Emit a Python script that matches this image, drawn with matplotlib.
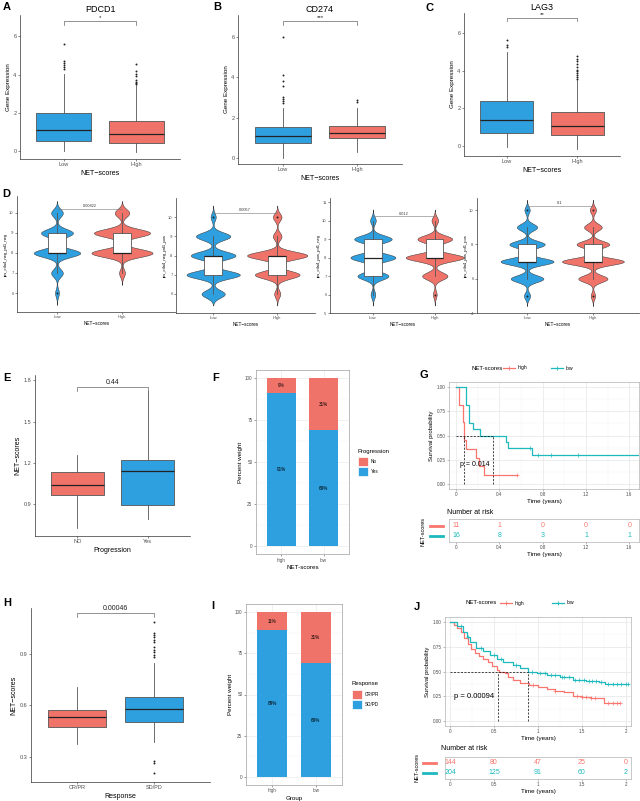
import numpy as np
import matplotlib
matplotlib.use('Agg')
import matplotlib.pyplot as plt
from matplotlib.patches import Rectangle
from matplotlib.lines import Line2D

plt.rcParams['font.family'] = ['Liberation Sans', 'DejaVu Sans']

# ---------------- data ----------------
groups = ['Low', 'High']

# A-C gene expression: whislo, q1, median, q3, whishi
genes = ['PDCD1', 'CD274', 'LAG3']
gene_sig = ['*', '***', '**']
gene_low = [[0.0, 0.55, 1.12, 1.97, 4.05],
            [0.0, 0.72, 1.08, 1.55, 2.5],
            [-0.05, 0.68, 1.40, 2.40, 5.0]]
gene_high = [[-0.05, 0.45, 0.88, 1.60, 3.45],
             [0.3, 0.98, 1.25, 1.58, 2.5],
             [-0.15, 0.60, 1.05, 1.80, 3.5]]
gene_low_out = [[4.3, 4.4, 4.5, 4.6, 4.7, 5.6],
                [2.75, 2.85, 2.95, 3.05, 3.55, 3.8, 4.1, 6.0],
                [5.25, 5.35, 5.6]]
gene_high_out = [[3.5, 3.55, 3.6, 3.7, 3.9, 4.05, 4.2, 4.55],
                 [2.8, 2.9],
                 [3.55, 3.65, 3.75, 3.85, 3.95, 4.05, 4.2, 4.35, 4.5, 4.6, 4.75]]

# D violins: relative frequency at each score level
ips_names = ['ips_ctla4_neg_pd1_neg', 'ips_ctla4_neg_pd1_pos',
             'ips_ctla4_pos_pd1_neg', 'ips_ctla4_pos_pd1_pos']
ips_pvals = ['0.00822', '0.0057', '0.012', '0.1']
ips_levels = [5, 6, 7, 8, 9, 10]
ips_low_freq = [[0, 4, 12, 48, 33, 12],
                [0, 27, 62, 52, 40, 6],
                [0, 5, 33, 48, 40, 6],
                [7, 37, 60, 40, 23, 6]]
ips_high_freq = [[0, 0, 6, 63, 58, 15],
                 [0, 7, 52, 70, 10, 10],
                 [0, 4, 27, 62, 37, 7],
                 [5, 33, 70, 37, 20, 7]]
ips_low_box = [[7, 8, 8, 9, 10], [6, 7, 8, 8, 9], [6, 7, 8, 9, 10], [6, 7, 7, 8, 9]]
ips_high_box = [[7, 8, 8, 9, 10], [6, 7, 8, 8, 9], [7, 8, 8, 9, 10], [6, 7, 7, 8, 9]]
ips_low_out = [[6], [10], [], [5, 10]]
ips_high_out = [[], [10], [6], [5, 10]]

# E progression boxplot
prog_groups = ['NO', 'Yes']
prog_box = [[0.725, 0.966, 1.04, 1.135, 1.26], [0.79, 0.893, 1.14, 1.22, 1.72]]
prog_p = '0.44'

# F progression stacked bars
f_groups = ['high', 'low']
f_no = [9, 31]
f_yes = [91, 69]

# G survival (small cohort)
g_high_t = [0.0, 0.03, 0.06, 0.065, 0.07, 0.075, 0.09, 0.18, 0.21, 0.26]
g_high_s = [1.0, 0.818, 0.727, 0.636, 0.545, 0.455, 0.364, 0.273, 0.182, 0.091]
g_high_end = 0.56
g_high_cens = [0.56]
g_low_t = [0.0, 0.09, 0.12, 0.16, 0.22, 0.46, 0.48, 0.70]
g_low_s = [1.0, 0.8125, 0.625, 0.5625, 0.5, 0.4375, 0.375, 0.30]
g_low_end = 1.69
g_low_cens = [0.68, 0.76, 0.88, 1.13]
g_medians = [0.078, 0.34]
g_pval = 'p = 0.014'
g_risk_times = [0, 0.4, 0.8, 1.2, 1.6]
g_risk_high = [11, 1, 0, 0, 0]
g_risk_low = [16, 8, 3, 1, 1]

# H response boxplot
resp_groups = ['CR/PR', 'SD/PD']
resp_box = [[0.376, 0.475, 0.533, 0.574, 0.708], [0.387, 0.502, 0.578, 0.65, 0.848]]
resp_out = [[], [0.205, 0.267, 0.279, 0.884, 0.895, 0.913, 0.925, 0.94,
                 0.97, 0.98, 1.0, 1.01, 1.02, 1.085]]
resp_p = '0.00046'

# I response stacked bars
i_groups = ['high', 'low']
i_crpr = [11, 31]
i_sdpd = [89, 69]

# J survival (large cohort)
j_high_t = [0, 0.04, 0.08, 0.12, 0.16, 0.20, 0.24, 0.28, 0.33, 0.38, 0.43, 0.48, 0.53,
            0.56, 0.63, 0.66, 0.72, 0.80, 0.90, 1.00, 1.10, 1.20, 1.30, 1.40, 1.50, 1.60, 1.75]
j_high_s = [1.0, 0.97, 0.94, 0.90, 0.84, 0.78, 0.73, 0.69, 0.66, 0.63, 0.60, 0.56, 0.52,
            0.497, 0.48, 0.44, 0.41, 0.38, 0.36, 0.34, 0.32, 0.30, 0.29, 0.25, 0.24, 0.23, 0.185]
j_high_end = 1.93
j_high_cens = [0.95, 1.2, 1.45, 1.5, 1.55, 1.6, 1.65, 1.8, 1.85, 1.9, 1.93]
j_low_t = [0, 0.075, 0.15, 0.19, 0.227, 0.30, 0.38, 0.455, 0.53, 0.606, 0.72, 0.795,
           0.89, 0.985, 1.1, 1.25, 1.4, 1.55, 1.70, 1.76]
j_low_s = [1.0, 0.956, 0.90, 0.85, 0.80, 0.74, 0.705, 0.665, 0.63, 0.60, 0.565, 0.54,
           0.50, 0.48, 0.463, 0.44, 0.41, 0.405, 0.395, 0.37]
j_low_end = 2.03
j_low_cens = [0.12, 0.2, 0.35, 0.5, 0.58, 0.75, 0.93, 1.02, 1.08, 1.15, 1.2, 1.27, 1.3,
              1.35, 1.42, 1.47, 1.52, 1.58, 1.62, 1.66, 1.72, 1.8, 1.85, 1.9, 1.95, 2.0, 2.03]
j_medians = [0.55, 0.89]
j_pval = 'p = 0.00094'
j_risk_times = [0, 0.5, 1, 1.5, 2]
j_risk_high = [144, 80, 47, 25, 0]
j_risk_low = [204, 125, 91, 60, 2]

# ---------------- style ----------------
BLUE = '#2E9FDF'
RED = '#F0736A'
KM_RED = '#F8766D'
KM_TEAL = '#1DB9BE'
TXT = '#4D4D4D'
MINUS = '\u2212'

W, H = 640, 801
fig = plt.figure(figsize=(6.4, 8.01), dpi=100)


def px_axes(l, t, r, b):
    return fig.add_axes([l / W, 1 - b / H, (r - l) / W, (b - t) / H])


def ftext(x, y, s, **kw):
    fig.text(x / W, 1 - y / H, s, **kw)


def letter(x, y, s):
    ftext(x, y, s, fontsize=8, fontweight='bold', ha='left', va='center')


def classic(ax, fs=4):
    for side in ['top', 'right']:
        ax.spines[side].set_visible(False)
    for side in ['left', 'bottom']:
        ax.spines[side].set_color('#333333')
        ax.spines[side].set_linewidth(0.5)
    ax.tick_params(length=1.5, width=0.4, color='#333333', labelsize=fs,
                   labelcolor=TXT, pad=1)


def boxes(ax, stats, fliers, colors, width=0.75):
    bs = []
    for (lo, q1, med, q3, hi), fl in zip(stats, fliers):
        bs.append(dict(whislo=lo, q1=q1, med=med, q3=q3, whishi=hi, fliers=fl))
    out = ax.bxp(bs, positions=[1, 2], widths=width, patch_artist=True, showcaps=False,
                 boxprops=dict(edgecolor='#555555', linewidth=0.6),
                 medianprops=dict(color='#222222', linewidth=0.9),
                 whiskerprops=dict(color='#555555', linewidth=0.6),
                 flierprops=dict(marker='o', markersize=1.4, markerfacecolor='#222222',
                                 markeredgecolor='none'))
    for patch, c in zip(out['boxes'], colors):
        patch.set_facecolor(c)


def bracket(ax, y, tick, label, fs, gap):
    ax.plot([1, 1, 2, 2], [y - tick, y, y, y - tick], color='#666666', lw=0.5)
    ax.text(1.5, y + gap, label, ha='center', va='bottom', fontsize=fs, color='#222222')


# ---------------- A-C ----------------
abc_rects = [(20, 15, 180, 159), (238, 15, 402, 164), (464, 13, 620, 156)]
abc_ylim = [(-0.4, 7.1), (-0.3, 7.1), (-0.53, 7.05)]
abc_letters = [(3, 7, 'A'), (213, 7, 'B'), (425, 8, 'C')]
for i in range(3):
    ax = px_axes(*abc_rects[i])
    classic(ax)
    boxes(ax, [gene_low[i], gene_high[i]], [gene_low_out[i], gene_high_out[i]], [BLUE, RED])
    ax.set_xlim(0.4, 2.6)
    ax.set_ylim(*abc_ylim[i])
    ax.set_yticks([0, 2, 4, 6])
    ax.set_xticks([1, 2])
    ax.set_xticklabels(groups)
    ax.set_ylabel('Gene Expression', fontsize=4.5, labelpad=1.5)
    ax.set_xlabel('NET' + MINUS + 'scores', fontsize=5, labelpad=1.5)
    ax.set_title(genes[i], fontsize=6.5, pad=2)
    bracket(ax, 6.8, 0.2, gene_sig[i], 4.5, 0.05)
    letter(*abc_letters[i])

# ---------------- D ----------------
d_rects = [(17, 196, 177, 312), (176, 198, 315, 313), (330, 198, 475, 313), (477, 198, 639, 313)]
d_ylim = [(5.05, 10.85), (5.01, 10.99), (5.0, 11.22), (4.0, 10.7)]
d_xlim = [(0.385, 2.846), (0.42, 2.59), (0.306, 2.65), (0.24, 2.70)]
d_yticks = [[6, 7, 8, 9, 10], [6, 7, 8, 9, 10], [5, 6, 7, 8, 9, 10, 11], [4, 6, 8, 10]]
bw = 0.2
lv = np.array(ips_levels, dtype=float)
for i in range(4):
    ax = px_axes(*d_rects[i])
    classic(ax, fs=3)
    dens_list = []
    for freq in [ips_low_freq[i], ips_high_freq[i]]:
        fr = np.array(freq, dtype=float)
        present = lv[fr > 0]
        y = np.linspace(present.min() - 3 * bw, present.max() + 3 * bw, 400)
        d = (fr[None, :] * np.exp(-0.5 * ((y[:, None] - lv[None, :]) / bw) ** 2)).sum(axis=1)
        dens_list.append((y, d))
    dmax = max(d.max() for _, d in dens_list)
    for pos, (y, d), col in zip([1, 2], dens_list, [BLUE, RED]):
        half = d / dmax * 0.47
        ax.fill_betweenx(y, pos - half, pos + half, facecolor=col, edgecolor='#333333', lw=0.35)
    boxes(ax, [ips_low_box[i], ips_high_box[i]], [ips_low_out[i], ips_high_out[i]],
          ['white', 'white'], width=0.28)
    ax.set_xlim(*d_xlim[i])
    ax.set_ylim(*d_ylim[i])
    ax.set_yticks(d_yticks[i])
    ax.set_xticks([1, 2])
    ax.set_xticklabels(groups)
    ax.set_ylabel(ips_names[i], fontsize=3, labelpad=1)
    ax.set_xlabel('NET' + MINUS + 'scores', fontsize=3.3, labelpad=1)
    ax.plot([1, 2], [10.22, 10.22], color='#777777', lw=0.4)
    ax.text(1.5, 10.27, ips_pvals[i], ha='center', va='bottom', fontsize=2.8, color='#333333')
letter(2, 194, 'D')

# ---------------- E ----------------
ax = px_axes(35, 375, 190, 536)
classic(ax)
boxes(ax, prog_box, [[], []], [RED, BLUE])
ax.set_xlim(0.4, 2.6)
ax.set_ylim(0.667, 1.84)
ax.set_yticks([0.9, 1.2, 1.5, 1.8])
ax.set_xticks([1, 2])
ax.set_xticklabels(prog_groups)
ax.set_ylabel('NET' + MINUS + 'scores', fontsize=5, labelpad=1.5)
ax.set_xlabel('Progression', fontsize=5, labelpad=1.5)
bracket(ax, 1.755, 0.03, prog_p, 5, 0.005)
letter(3, 378, 'E')


# ---------------- F / I ----------------
def stack_panel(rect, cats, top_vals, bot_vals, xlabel, leg_title, leg_labels, leg_xy):
    ax = px_axes(*rect)
    ax.set_facecolor('white')
    x = np.arange(1, len(cats) + 1)
    ax.bar(x, bot_vals, width=0.7, color=BLUE, zorder=2)
    ax.bar(x, top_vals, bottom=bot_vals, width=0.7, color=RED, zorder=2)
    for xi, b, t in zip(x, bot_vals, top_vals):
        ax.text(xi, b / 2, f'{b}%', ha='center', va='center', fontsize=3.3, zorder=3)
        ax.text(xi, b + t / 2, f'{t}%', ha='center', va='center', fontsize=3.3, zorder=3)
    ax.set_xlim(0.4, 2.6)
    ax.set_ylim(-5, 105)
    ax.set_yticks([0, 25, 50, 75, 100])
    ax.set_yticks([12.5, 37.5, 62.5, 87.5], minor=True)
    ax.set_xticks(x)
    ax.set_xticklabels(cats)
    ax.grid(True, which='major', color='#EBEBEB', lw=0.5, zorder=0)
    ax.grid(True, which='minor', axis='y', color='#F4F4F4', lw=0.3, zorder=0)
    ax.set_axisbelow(True)
    for s in ax.spines.values():
        s.set_color('#A0A0A0')
        s.set_linewidth(0.5)
    ax.tick_params(length=1.5, width=0.4, color='#555555', labelsize=3.3, labelcolor=TXT, pad=1)
    ax.tick_params(which='minor', length=0)
    ax.set_ylabel('Percent weight', fontsize=4.5, labelpad=1.5)
    ax.set_xlabel(xlabel, fontsize=4.5, labelpad=1.5)
    lx, ly = leg_xy
    ftext(lx, ly, leg_title, fontsize=4.3, ha='left', va='center')
    for k, (lab, col) in enumerate(zip(leg_labels, [RED, BLUE])):
        yk = ly + 5.5 + k * 10
        fig.add_artist(Rectangle((lx / W, 1 - (yk + 9.5) / H), 9.5 / W, 9.5 / H,
                                 transform=fig.transFigure, facecolor=col, edgecolor='white', lw=0.5))
        ftext(lx + 13, yk + 4.8, lab, fontsize=3.3, ha='left', va='center')
    return ax


stack_panel((256, 370, 349, 554.4), f_groups, f_no, f_yes, 'NET-scores',
            'Progression', ['No', 'Yes'], (358, 451))
letter(212, 378, 'F')
stack_panel((246, 604, 342, 785), i_groups, i_crpr, i_sdpd, 'Group',
            'Response', ['CR/PR', 'SD/PD'], (352, 684))
letter(211, 606, 'I')

# ---------------- H ----------------
ax = px_axes(31, 608, 210, 782)
classic(ax)
boxes(ax, resp_box, resp_out, [RED, BLUE])
ax.set_xlim(0.4, 2.73)
ax.set_ylim(0.154, 1.168)
ax.set_yticks([0.3, 0.6, 0.9])
ax.set_xticks([1, 2])
ax.set_xticklabels(resp_groups)
ax.set_ylabel('NET' + MINUS + 'scores', fontsize=5, labelpad=1.5)
ax.set_xlabel('Response', fontsize=5, labelpad=1.5)
bracket(ax, 1.14, 0.025, resp_p, 5, 0.004)
letter(3, 603, 'H')


# ---------------- G / J ----------------
def km_panel(rect, xlim, xticks, xticklabels, minor, curves, medians, pval, pxy, pfs):
    ax = px_axes(*rect)
    for t, s, end, cens, col in curves:
        ax.step(list(t) + [end], list(s) + [s[-1]], where='post', color=col, lw=0.9, zorder=3)
        idx = np.searchsorted(t, cens, side='right') - 1
        ax.plot(cens, np.array(s)[idx], '+', color=col, ms=2.5, mew=0.5, zorder=3)
    ax.plot([0, max(medians)], [0.5, 0.5], ls=(0, (3, 2)), color='black', lw=0.5, zorder=4)
    for m in medians:
        ax.plot([m, m], [0, 0.5], ls=(0, (3, 2)), color='black', lw=0.5, zorder=4)
    ax.text(pxy[0], pxy[1], pval, fontsize=pfs, ha='left', va='center', zorder=5)
    ax.set_xlim(*xlim)
    ax.set_ylim(-0.05, 1.05)
    ax.set_xticks(xticks)
    ax.set_xticklabels(xticklabels)
    ax.set_xticks(minor, minor=True)
    ax.set_yticks([0, 0.25, 0.5, 0.75, 1.0])
    ax.set_yticklabels(['0.00', '0.25', '0.50', '0.75', '1.00'])
    ax.set_yticks([0.125, 0.375, 0.625, 0.875], minor=True)
    ax.grid(True, which='major', color='#E6E6E6', lw=0.5, zorder=0)
    ax.grid(True, which='minor', color='#F2F2F2', lw=0.3, zorder=0)
    for s in ax.spines.values():
        s.set_color('#B3B3B3')
        s.set_linewidth(0.5)
    ax.tick_params(length=1.5, width=0.4, color='#888888', labelsize=3.3, labelcolor=TXT, pad=1)
    ax.tick_params(which='minor', length=0)
    ax.set_ylabel('Survival probability', fontsize=4.3, labelpad=2)
    ax.set_xlabel('Time (years)', fontsize=4.5, labelpad=1)
    return ax


def risk_table(rect, xlim, times, high, low, ylim, title_xy):
    ax = px_axes(*rect)
    for row, vals, col in [(2, high, KM_RED), (1, low, KM_TEAL)]:
        for t, v in zip(times, vals):
            ax.text(t, row, str(v), color=col, fontsize=5, ha='center', va='center')
    ax.set_xlim(*xlim)
    ax.set_ylim(*ylim)
    ax.set_yticks([])
    ax.set_xticks(times)
    ax.set_xticklabels([f'{t:g}' for t in times])
    for s in ax.spines.values():
        s.set_color('#B3B3B3')
        s.set_linewidth(0.5)
    ax.tick_params(length=1.5, width=0.4, color='#888888', labelsize=3.3, labelcolor=TXT, pad=1)
    ax.set_xlabel('Time (years)', fontsize=4.5, labelpad=1)
    ftext(title_xy[0], title_xy[1], 'Number at risk', fontsize=5, ha='left', va='center')
    return ax


def km_legend(y, x_name, x_red, x_teal):
    ftext(x_name, y, 'NET-scores', fontsize=4.3, ha='left', va='center')
    for x0, col, lab in [(x_red, KM_RED, 'high'), (x_teal, KM_TEAL, 'low')]:
        fig.add_artist(Line2D([x0 / W, (x0 + 12) / W], [1 - y / H] * 2, color=col, lw=0.9))
        fig.add_artist(Line2D([(x0 + 6) / W], [1 - y / H], marker='+', color=col, ms=2.8, mew=0.6))
        ftext(x0 + 15, y, lab, fontsize=3.6, ha='left', va='center')


def side_keys(x0, ys, name_x):
    for yk, col in zip(ys, [KM_RED, KM_TEAL]):
        fig.add_artist(Line2D([x0 / W, (x0 + 13) / W], [1 - yk / H] * 2, color=col, lw=2.0))
    ftext(name_x, sum(ys) / 2, 'NET-scores', fontsize=4, rotation=90, ha='center', va='center')


g_xlim = (-0.065, 1.69)
km_panel((449, 382, 639, 489), g_xlim, [0, 0.4, 0.8, 1.2, 1.6], ['0', '0.4', '0.8', '1.2', '1.6'],
         [0.2, 0.6, 1.0, 1.4],
         [(g_high_t, g_high_s, g_high_end, g_high_cens, KM_RED),
          (g_low_t, g_low_s, g_low_end, g_low_cens, KM_TEAL)],
         g_medians, g_pval, (0.035, 0.2), 5)
risk_table((449, 519, 639, 542), g_xlim, g_risk_times, g_risk_high, g_risk_low, (0.35, 2.65), (447, 512))
km_legend(368, 472, 503, 551)
side_keys(430, [526, 536], 423)
letter(420, 375, 'G')

j_xlim = (-0.057, 2.06)
km_panel((445, 617, 631, 726), j_xlim, [0, 0.5, 1, 1.5, 2], ['0', '0.5', '1', '1.5', '2'],
         [0.25, 0.75, 1.25, 1.75],
         [(j_high_t, j_high_s, j_high_end, j_high_cens, KM_RED),
          (j_low_t, j_low_s, j_low_end, j_low_cens, KM_TEAL)],
         j_medians, j_pval, (0.04, 0.25), 5.5)
risk_table((445, 757, 631, 779), j_xlim, j_risk_times, j_risk_high, j_risk_low, (0.4, 2.6), (441, 749))
km_legend(603, 465, 500, 552)
side_keys(423, [763, 773], 417)
letter(414, 607, 'J')

fig.savefig('out.png', dpi=100)
